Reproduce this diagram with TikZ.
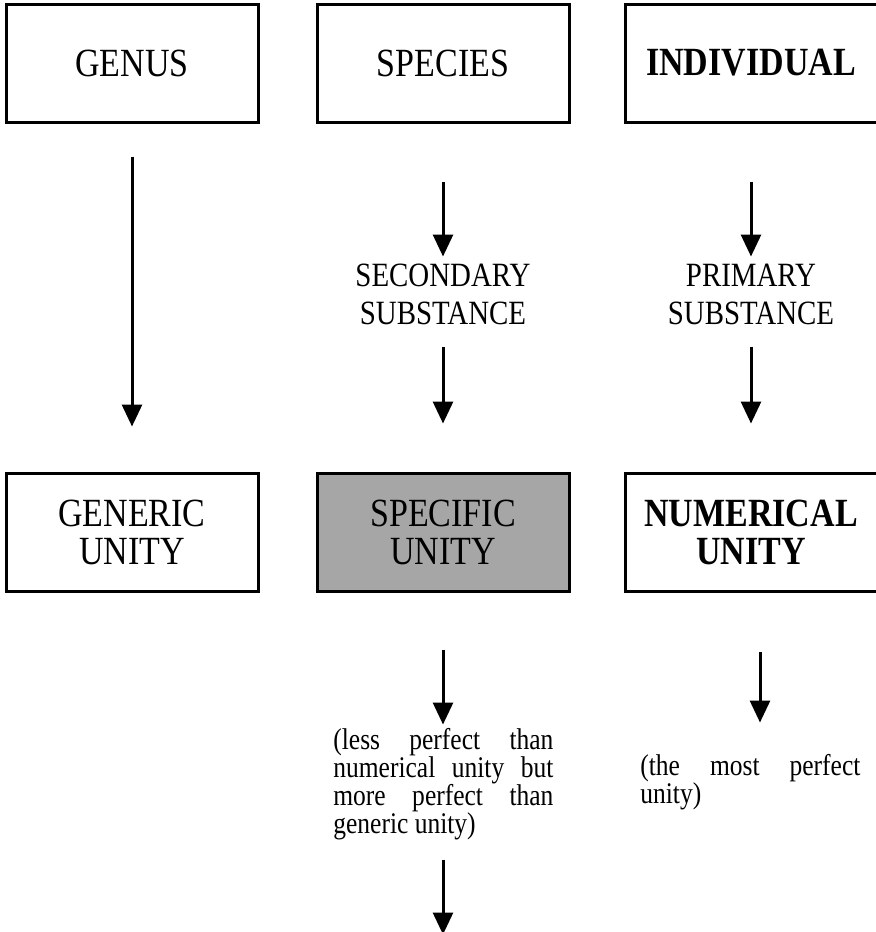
\documentclass[tikz,border=0pt]{standalone}
\usepackage{fontspec}
\setmainfont{Liberation Serif}[FakeStretch=0.85]
\usepackage{xcolor}
\usetikzlibrary{positioning,arrows.meta}
\definecolor{boxgray}{RGB}{166,166,166}

\begin{document}
\begin{tikzpicture}
[
x=0.5pt, y=-0.5pt,
box-a/.style={rectangle, draw, line width=1.5pt, minimum width=126pt, minimum height=59pt, inner sep=0pt, align=center, font=\fontsize{20}{19}\selectfont},
box-b/.style={box-a, font=\fontsize{20}{19}\selectfont\bfseries},
text-a/.style={black, align=center, font=\fontsize{17}{19}\selectfont},
text-b/.style={black, anchor=north west, text width=110pt, align=justify, inner sep=0pt, font=\fontsize{15}{14}\selectfont},
arr-a/.style={line width=1.5pt, -{Triangle[width=10pt,length=11pt]}}
]
\useasboundingbox (0,0) rectangle (876,932);
% top row
\node (box-genus)      [box-a] at (132,63)  {GENUS};
\node (box-species)    [box-a] at (443,63)  {SPECIES};
\node (box-individual) [box-b] at (751,63)  {INDIVIDUAL};
% middle row
\node (box-generic)    [box-a, below = 174pt of box-genus]                 {GENERIC\\UNITY};
\node (box-specific)   [box-a, fill=boxgray, below = 174pt of box-species] {SPECIFIC\\UNITY};
\node (box-numerical)  [box-b, below = 174pt of box-individual]            {NUMERICAL\\UNITY};
% substances
\node (text-second)    [text-a] at (443,294) {SECONDARY\\SUBSTANCE};
\node (text-primary)   [text-a] at (751,294) {PRIMARY\\SUBSTANCE};
% remarks
\node (text-less)      [text-b] at (333,728) {(less perfect than\linebreak numerical unity but\linebreak more perfect than\linebreak generic unity)};
\node (text-most)      [text-b] at (640,754) {(the most perfect\linebreak unity)};
% arrows
\draw [arr-a] ([yshift=-16.5pt]box-genus.south) -- ([yshift=22.5pt]box-generic.north);
\draw [arr-a] ([yshift=-29pt]box-species.south) -- ([yshift=-66.5pt]box-species.south);
\draw [arr-a] ([yshift=62.5pt]box-specific.north) -- ([yshift=24pt]box-specific.north);
\draw [arr-a] ([yshift=-29pt]box-individual.south) -- ([yshift=-66.5pt]box-individual.south);
\draw [arr-a] ([yshift=62.5pt]box-numerical.north) -- ([yshift=24pt]box-numerical.north);
\draw [arr-a] ([yshift=-28.5pt]box-specific.south) -- ([yshift=-66pt]box-specific.south);
\draw [arr-a] ([yshift=-133.5pt]box-specific.south) -- ([yshift=-171pt]box-specific.south);
\draw [arr-a] ([xshift=4.5pt,yshift=-29.5pt]box-numerical.south) -- ([xshift=4.5pt,yshift=-65pt]box-numerical.south);
\end{tikzpicture}
\end{document}
